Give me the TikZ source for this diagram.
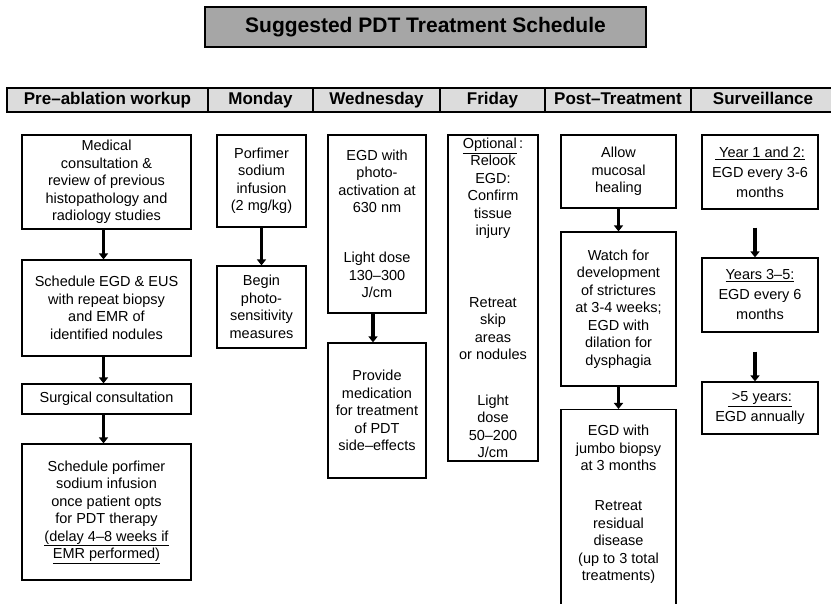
\documentclass[tikz,border=0pt]{standalone}
\usepackage{fontspec}
\setmainfont{Liberation Sans}
\usetikzlibrary{arrows.meta}
\definecolor{headgrey}{RGB}{220,220,220}
\definecolor{titlegrey}{RGB}{166,166,166}
\tikzset{
  stepbox/.style={draw, line width=1.2pt, align=center, inner sep=2pt, font={\fontsize{14.5}{17.5}\selectfont}},
  survbox/.style={stepbox, font={\fontsize{14.5}{20}\selectfont}},
  plaintext/.style={align=center, inner sep=2pt, font={\fontsize{14.5}{17.5}\selectfont}},
  headcell/.style={draw, line width=1.2pt, fill=headgrey, minimum height=24, text height=12.5pt, text depth=3.5pt, font={\fontsize{17}{20}\selectfont\bfseries}},
  titlebox/.style={draw, line width=1.4pt, fill=titlegrey, minimum width=441, minimum height=40, font={\fontsize{21}{25}\selectfont\bfseries}},
  flow/.style={line width=3.2pt, -{Triangle[length=6pt,width=9pt]}}
}
\begin{document}
\begin{tikzpicture}[x=1pt,y=-1pt]
  \clip (0,0) rectangle (831,604);
  % title and header row
  \node[titlebox] (title) at (425.5,27) {Suggested PDT Treatment Schedule};
  \node[headcell, minimum width=201] (hpre) at (107.5,100) {Pre--ablation workup};
  \node[headcell, minimum width=105] (hmon) at (260.5,100) {Monday};
  \node[headcell, minimum width=127] (hwed) at (376.5,100) {Wednesday};
  \node[headcell, minimum width=105] (hfri) at (492.5,100) {Friday};
  \node[headcell, minimum width=146] (hpost) at (618,100) {Post--Treatment};
  \node[headcell, minimum width=144] (hsurv) at (763,100) {Surveillance};
  % pre-ablation workup
  \node[stepbox, minimum width=169, minimum height=94] (medcons) at (106.5,182)
    {Medical\\ consultation \&\\ review of previous\\ histopathology and\\ radiology studies};
  \node[stepbox, minimum width=169, minimum height=96] (schedegd) at (106.5,308)
    {Schedule EGD \& EUS\\ with repeat biopsy\\ and EMR of\\ identified nodules};
  \node[stepbox, minimum width=169, minimum height=30] (surgcons) at (106.5,399)
    {Surgical consultation};
  \node[stepbox, minimum width=169, minimum height=136] (schedporf) at (106.5,512)
    {Schedule porfimer\\ sodium infusion\\ once patient opts\\ for PDT therapy\\ \underline{(delay 4--8 weeks if}\\ \underline{EMR performed)}};
  % monday
  \node[stepbox, minimum width=89, minimum height=92] (infusion) at (261.5,181)
    {Porfimer\\ sodium\\ infusion\\ (2 mg/kg)};
  \node[stepbox, minimum width=89, minimum height=82] (photosens) at (261.5,307)
    {Begin\\ photo-\\ sensitivity\\ measures};
  % wednesday
  \node[stepbox, minimum width=98, minimum height=178] (activation) at (377,224)
    {EGD with\\ photo-\\ activation at\\ 630 nm\\[32.5pt] Light dose\\ 130--300\\ J/cm};
  \node[stepbox, minimum width=98, minimum height=135] (medication) at (377,410.5)
    {Provide\\ medication\\ for treatment\\ of PDT\\ side--effects};
  % friday
  \node[stepbox, minimum width=90, minimum height=326] (relook) at (493,298)
    {\underline{Optional}\,:\\ Relook\\ EGD:\\ Confirm\\ tissue\\ injury\\[53.7pt] Retreat\\ skip\\ areas\\ or nodules\\[28.4pt] Light\\ dose\\ 50--200\\ J/cm};
  % post-treatment
  \node[stepbox, minimum width=115, minimum height=73] (healing) at (618.5,171.5)
    {Allow\\ mucosal\\ healing};
  \node[stepbox, minimum width=115, minimum height=154] (strictures) at (618.5,309)
    {Watch for\\ development\\ of strictures\\ at 3-4 weeks;\\ EGD with\\ dilation for\\ dysphagia};
  \node[stepbox, minimum width=115, minimum height=215, anchor=north] (jumbo) at (618.5,409) {};
  \node[plaintext, anchor=north] (jumbotext) at ([yshift=-14pt]jumbo.north)
    {EGD with\\ jumbo biopsy\\ at 3 months\\[22.5pt] Retreat\\ residual\\ disease\\ (up to 3 total\\ treatments)};
  % surveillance
  \node[survbox, minimum width=116, minimum height=74] (year12) at (760,172)
    {\underline{\ Year 1 and 2:}\\ EGD every 3-6\\ months};
  \node[survbox, minimum width=116, minimum height=74] (year35) at (760,295)
    {\underline{Years 3--5:}\\ EGD every 6\\ months};
  \node[survbox, minimum width=116, minimum height=52] (year5) at (760,408)
    {\underline{\ >5 years:}\\ EGD annually};
  % arrows
  \draw[flow] ([xshift=-3pt]medcons.south) -- ([xshift=-3pt]schedegd.north);
  \draw[flow] ([xshift=-3pt]schedegd.south) -- ([xshift=-3pt]surgcons.north);
  \draw[flow] ([xshift=-3pt]surgcons.south) -- ([xshift=-3pt]schedporf.north);
  \draw[flow] (infusion.south) -- (photosens.north);
  \draw[flow] ([xshift=-4pt]activation.south) -- ([xshift=-4pt]medication.north);
  \draw[flow] (healing.south) -- (strictures.north);
  \draw[flow] (strictures.south) -- (jumbo.north);
  \draw[flow] ([xshift=-5pt,yshift=-18pt]year12.south) -- ([xshift=-5pt]year35.north);
  \draw[flow] ([xshift=-5pt,yshift=-19pt]year35.south) -- ([xshift=-5pt]year5.north);
\end{tikzpicture}
\end{document}
